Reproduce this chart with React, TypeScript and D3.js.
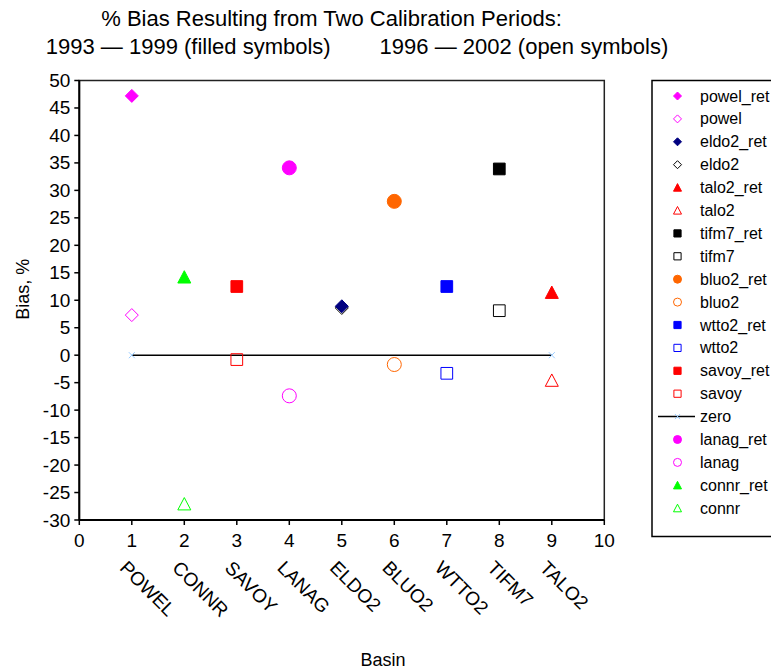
import React from "react";
import * as d3 from "d3";

// Basin order along the x axis (positions 1..9)
const basins = ["POWEL", "CONNR", "SAVOY", "LANAG", "ELDO2", "BLUO2", "WTTO2", "TIFM7", "TALO2"];

// Series: name, x position, % bias, shape, colour, filled
const seriesNames = [
  "powel_ret", "powel", "eldo2_ret", "eldo2", "talo2_ret", "talo2",
  "tifm7_ret", "tifm7", "bluo2_ret", "bluo2", "wtto2_ret", "wtto2",
  "savoy_ret", "savoy", "zero", "lanag_ret", "lanag", "connr_ret", "connr",
];
const seriesX = [1, 1, 5, 5, 9, 9, 8, 8, 6, 6, 7, 7, 3, 3, 0, 4, 4, 2, 2];
const seriesY = [47.2, 7.3, 8.9, 8.6, 11.4, -4.6, 33.9, 8.1, 28.0, -1.7, 12.5, -3.3, 12.5, -0.8, 0, 34.1, -7.4, 14.2, -27.1];
const seriesShape = [
  "diamond", "diamond", "diamond", "diamond", "triangle", "triangle",
  "square", "square", "circle", "circle", "square", "square",
  "square", "square", "line", "circle", "circle", "triangle", "triangle",
];
const seriesColor = [
  "#ff00ff", "#ff00ff", "#000080", "#000000", "#ff0000", "#ff0000",
  "#000000", "#000000", "#ff6600", "#ff6600", "#0000ff", "#0000ff",
  "#ff0000", "#ff0000", "#000000", "#ff00ff", "#ff00ff", "#00ff00", "#00ff00",
];
const seriesFilled = [
  true, false, true, false, true, false, true, false, true, false,
  true, false, true, false, false, true, false, true, false,
];

// Zero reference line endpoints
const zeroX = [1, 9];
const zeroY = [0, 0];

const xTicks = d3.range(0, 11, 1);
const yTicks = d3.range(-30, 51, 5);

const FONT = "Liberation Sans, Arial, sans-serif";

function shapePath(shape: string, cx: number, cy: number, r: number): string {
  switch (shape) {
    case "diamond":
      return `M${cx},${cy - r}L${cx + r},${cy}L${cx},${cy + r}L${cx - r},${cy}Z`;
    case "square": {
      const h = r * 0.9;
      return `M${cx - h},${cy - h}H${cx + h}V${cy + h}H${cx - h}Z`;
    }
    case "triangle":
      return `M${cx},${cy - r}L${cx + r},${cy + r * 0.9}L${cx - r},${cy + r * 0.9}Z`;
    case "circle": {
      const p = d3.path();
      p.arc(cx, cy, r, 0, 2 * Math.PI);
      return p.toString();
    }
    default:
      return "";
  }
}

export default function App() {
  const width = 771;
  const height = 672;
  const x = d3.scaleLinear().domain([0, 10]).range([79.3, 604.3]);
  const y = d3.scaleLinear().domain([-30, 50]).range([520, 80.5]);

  const line = d3
    .line<number>()
    .x((d) => x(zeroX[d]))
    .y((d) => y(zeroY[d]));

  const legendX = 652;
  const legendTop = 80.5;
  const legendStep = 22.9;
  const legendFirst = 96;

  // open symbols drawn first so filled ones sit on top
  const order = seriesNames
    .map((_, i) => i)
    .filter((i) => seriesShape[i] !== "line")
    .sort((a, b) => Number(seriesFilled[a]) - Number(seriesFilled[b]));

  return (
    <svg
      width={width}
      height={height}
      style={{ position: "absolute", left: 0, top: 0, background: "#fff" }}
      fontFamily={FONT}
    >
      {/* Title */}
      <text x={331.5} y={26} fontSize={22} textAnchor="middle" fill="#000">
        % Bias Resulting from Two Calibration Periods:
      </text>
      <text x={357} y={54} fontSize={22} textAnchor="middle" fill="#000" style={{ whiteSpace: "pre" }}>
        {"1993 \u2014 1999 (filled symbols)        1996 \u2014 2002 (open symbols)"}
      </text>

      {/* Plot frame */}
      <rect
        x={x(0)}
        y={y(50)}
        width={x(10) - x(0)}
        height={y(-30) - y(50)}
        fill="none"
        stroke="#222"
        strokeWidth={1.5}
      />
      <line x1={x(0)} x2={x(0)} y1={y(50)} y2={y(-30)} stroke="#000" strokeWidth={2} />
      <line x1={x(0)} x2={x(10)} y1={y(-30)} y2={y(-30)} stroke="#000" strokeWidth={2} />

      {/* Y axis ticks */}
      {yTicks.map((t) => (
        <g key={"y" + t}>
          <line x1={x(0) - 5} x2={x(0)} y1={y(t)} y2={y(t)} stroke="#000" strokeWidth={1.5} />
          <text x={x(0) - 9} y={y(t) + 6.5} fontSize={19} textAnchor="end" fill="#000">
            {t}
          </text>
        </g>
      ))}

      {/* X axis ticks */}
      {xTicks.map((t) => (
        <g key={"x" + t}>
          <line x1={x(t)} x2={x(t)} y1={y(-30)} y2={y(-30) + 5} stroke="#000" strokeWidth={1.5} />
          <text x={x(t)} y={y(-30) + 27} fontSize={19} textAnchor="middle" fill="#000">
            {t}
          </text>
        </g>
      ))}

      {/* Basin names */}
      {basins.map((b, i) => {
        const bx = x(i + 1) - 13;
        const by = 569;
        return (
          <text
            key={b}
            x={bx}
            y={by}
            fontSize={19}
            textAnchor="start"
            transform={`rotate(45, ${bx}, ${by})`}
            fill="#000"
          >
            {b}
          </text>
        );
      })}

      {/* Axis titles */}
      <text
        x={0}
        y={0}
        fontSize={18}
        textAnchor="middle"
        transform={`translate(29, ${y(12)}) rotate(-90)`}
        fill="#000"
      >
        Bias, %
      </text>
      <text x={383} y={666} fontSize={18} textAnchor="middle" fill="#000">
        Basin
      </text>

      {/* Zero line */}
      <path d={line([0, 1]) || ""} fill="none" stroke="#000" strokeWidth={1.5} />
      {zeroX.map((zx, i) => (
        <g key={"z" + i} stroke="#99ccff" strokeWidth={1}>
          <line x1={x(zx) - 3} x2={x(zx) + 3} y1={y(zeroY[i]) - 3} y2={y(zeroY[i]) + 3} />
          <line x1={x(zx) - 3} x2={x(zx) + 3} y1={y(zeroY[i]) + 3} y2={y(zeroY[i]) - 3} />
        </g>
      ))}

      {/* Data markers */}
      {order.map((i) => (
        <path
          key={seriesNames[i]}
          d={shapePath(seriesShape[i], x(seriesX[i]), y(seriesY[i]), seriesShape[i] === "circle" ? 7 : 6.5)}
          fill={seriesFilled[i] ? seriesColor[i] : "none"}
          stroke={seriesColor[i]}
          strokeWidth={1}
        />
      ))}

      {/* Legend */}
      <rect
        x={legendX}
        y={legendTop}
        width={140}
        height={536.5 - legendTop}
        fill="#fff"
        stroke="#000"
        strokeWidth={1.5}
      />
      {seriesNames.map((name, i) => {
        const ly = legendFirst + i * legendStep;
        const lx = 677.5;
        return (
          <g key={"lg" + name}>
            {seriesShape[i] === "line" ? (
              <g>
                <line x1={658} x2={695} y1={ly} y2={ly} stroke="#000" strokeWidth={1.5} />
                <line x1={lx - 2.5} x2={lx + 2.5} y1={ly - 2.5} y2={ly + 2.5} stroke="#99ccff" />
                <line x1={lx - 2.5} x2={lx + 2.5} y1={ly + 2.5} y2={ly - 2.5} stroke="#99ccff" />
              </g>
            ) : (
              <path
                d={shapePath(seriesShape[i], lx, ly, 4)}
                fill={seriesFilled[i] ? seriesColor[i] : "#fff"}
                stroke={seriesColor[i]}
                strokeWidth={1}
              />
            )}
            <text x={700} y={ly + 5.5} fontSize={16} fill="#000">
              {name}
            </text>
          </g>
        );
      })}
    </svg>
  );
}
